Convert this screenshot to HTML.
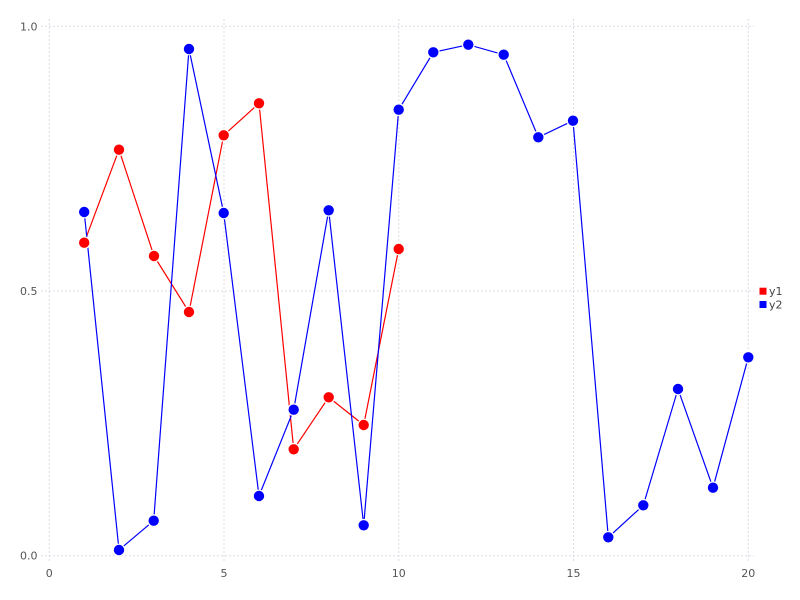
<!DOCTYPE html>
<html><head><meta charset="utf-8"><style>
html,body{margin:0;padding:0;background:#fff;}
svg{display:block;}
text{font-family:"DejaVu Sans","Liberation Sans",sans-serif;font-size:11px;fill:#555;}
</style></head><body>
<svg width="800" height="600" viewBox="0 0 800 600" xmlns="http://www.w3.org/2000/svg">
<g stroke="#dcdce4" stroke-width="1" stroke-dasharray="2,2" fill="none">
<line x1="41" y1="26.3" x2="754" y2="26.3"/>
<line x1="41" y1="291" x2="754" y2="291"/>
<line x1="41" y1="555.7" x2="754" y2="555.7"/>
<line x1="49.3" y1="19" x2="49.3" y2="562"/>
<line x1="224" y1="19" x2="224" y2="562"/>
<line x1="398.8" y1="19" x2="398.8" y2="562"/>
<line x1="573.5" y1="19" x2="573.5" y2="562"/>
<line x1="748.3" y1="19" x2="748.3" y2="562"/>
</g>
<g text-anchor="end">
<text x="37.5" y="30.3">1.0</text>
<text x="37.5" y="295">0.5</text>
<text x="37.5" y="559.5">0.0</text>
</g>
<g text-anchor="middle">
<text x="49.3" y="577">0</text>
<text x="224" y="577">5</text>
<text x="398.8" y="577">10</text>
<text x="573.5" y="577">15</text>
<text x="748.3" y="577">20</text>
</g>
<polyline fill="none" stroke="#ff0000" stroke-width="1.2" points="84.2,242.7 119,149.7 154,256 189,312 223.7,135.3 259,103.3 293.7,449.3 328.7,397.3 363.7,425 398.7,249"/>
<polyline fill="none" stroke="#0000ff" stroke-width="1.2" points="84.2,212 119,550 153.7,520.7 189,49 223.7,213 259,496 293.7,409.7 328.7,210.3 363.7,525.3 398.7,109.7 433.3,52.3 468.3,44.7 503.7,54.7 538.3,137.3 573,120.7 608.3,537.3 643.3,505.3 678,389 713,487.7 748.3,357.3"/>
<g fill="#ff0000" stroke="#fff" stroke-width="1.2">
<circle cx="84.2" cy="242.7" r="5.8"/>
<circle cx="119" cy="149.7" r="5.8"/>
<circle cx="154" cy="256" r="5.8"/>
<circle cx="189" cy="312" r="5.8"/>
<circle cx="223.7" cy="135.3" r="5.8"/>
<circle cx="259" cy="103.3" r="5.8"/>
<circle cx="293.7" cy="449.3" r="5.8"/>
<circle cx="328.7" cy="397.3" r="5.8"/>
<circle cx="363.7" cy="425" r="5.8"/>
<circle cx="398.7" cy="249" r="5.8"/>
</g>
<g fill="#0000ff" stroke="#fff" stroke-width="1.2">
<circle cx="84.2" cy="212" r="5.8"/>
<circle cx="119" cy="550" r="5.8"/>
<circle cx="153.7" cy="520.7" r="5.8"/>
<circle cx="189" cy="49" r="5.8"/>
<circle cx="223.7" cy="213" r="5.8"/>
<circle cx="259" cy="496" r="5.8"/>
<circle cx="293.7" cy="409.7" r="5.8"/>
<circle cx="328.7" cy="210.3" r="5.8"/>
<circle cx="363.7" cy="525.3" r="5.8"/>
<circle cx="398.7" cy="109.7" r="5.8"/>
<circle cx="433.3" cy="52.3" r="5.8"/>
<circle cx="468.3" cy="44.7" r="5.8"/>
<circle cx="503.7" cy="54.7" r="5.8"/>
<circle cx="538.3" cy="137.3" r="5.8"/>
<circle cx="573" cy="120.7" r="5.8"/>
<circle cx="608.3" cy="537.3" r="5.8"/>
<circle cx="643.3" cy="505.3" r="5.8"/>
<circle cx="678" cy="389" r="5.8"/>
<circle cx="713" cy="487.7" r="5.8"/>
<circle cx="748.3" cy="357.3" r="5.8"/>
</g>
<rect x="759.5" y="287.7" width="7" height="7" fill="#ff0000"/>
<rect x="759.5" y="301" width="7" height="7" fill="#0000ff"/>
<text x="769" y="295" style="fill:#444">y1</text>
<text x="769" y="308.3" style="fill:#444">y2</text>
</svg>
</body></html>
